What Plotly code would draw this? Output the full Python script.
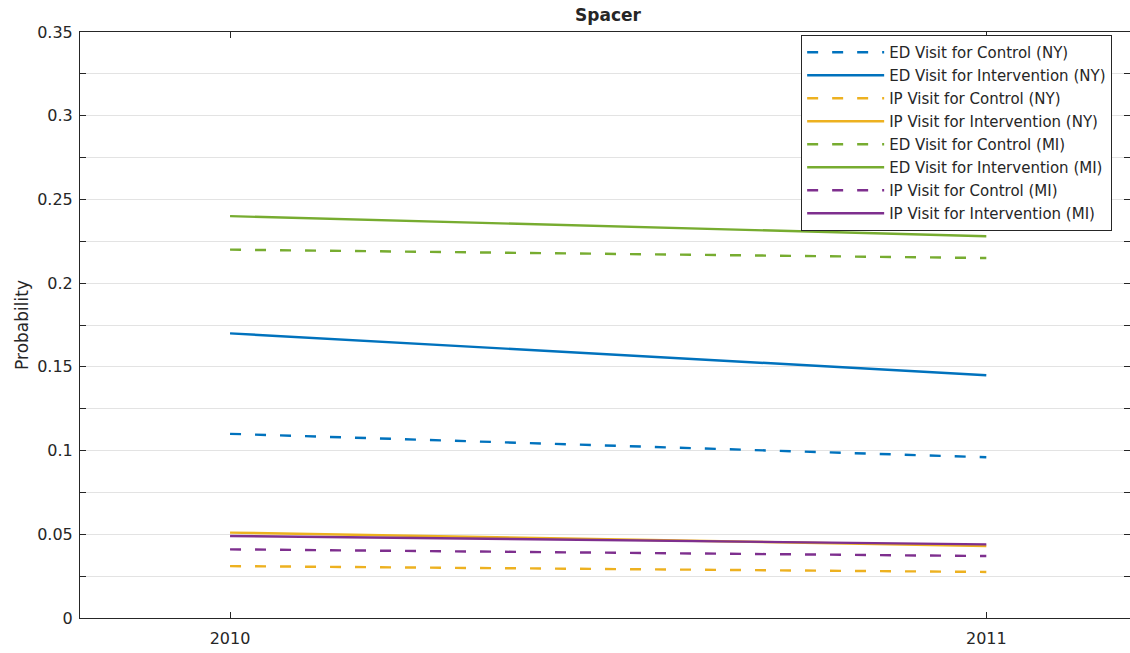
import plotly.graph_objects as go

# ── Data ─────────────────────────────────────────────────────────

years = [2010, 2011]

series_names = [
    "ED Visit for Control (NY)",
    "ED Visit for Intervention (NY)",
    "IP Visit for Control (NY)",
    "IP Visit for Intervention (NY)",
    "ED Visit for Control (MI)",
    "ED Visit for Intervention (MI)",
    "IP Visit for Control (MI)",
    "IP Visit for Intervention (MI)",
]

ed_control_ny = [0.110, 0.096]
ed_intervention_ny = [0.170, 0.145]
ip_control_ny = [0.031, 0.0275]
ip_intervention_ny = [0.051, 0.043]
ed_control_mi = [0.220, 0.215]
ed_intervention_mi = [0.240, 0.228]
ip_control_mi = [0.041, 0.037]
ip_intervention_mi = [0.049, 0.044]

series_values = [
    ed_control_ny, ed_intervention_ny, ip_control_ny, ip_intervention_ny,
    ed_control_mi, ed_intervention_mi, ip_control_mi, ip_intervention_mi,
]

# ── Styles ───────────────────────────────────────────────────────

_COLORS = ["#0072BD", "#0072BD", "#EDB120", "#EDB120",
           "#77AC30", "#77AC30", "#7E2F8E", "#7E2F8E"]
_DASHES = ["dash", "solid"] * 4
_TEXT = "#262626"
_AXIS = "#262626"
_GRID = "#e3e3e3"
_FONT = "DejaVu Sans, Arial, sans-serif"

fig = go.Figure()
for i, (name, vals, color, dash) in enumerate(
    zip(series_names, series_values, _COLORS, _DASHES)
):
    fig.add_trace(
        go.Scatter(
            x=years,
            y=vals,
            name=name,
            legendgroup=f"g{i}",
            mode="lines",
            line=dict(
                color=color,
                width=2.4,
                dash="11px,14px" if dash == "dash" else "solid",
            ),
        )
    )

axis_common = dict(
    showline=True,
    linecolor=_AXIS,
    linewidth=1,
    mirror="ticks",
    ticks="inside",
    ticklen=6,
    tickcolor=_AXIS,
    tickfont=dict(family=_FONT, size=16, color=_TEXT),
    zeroline=False,
)

fig.update_layout(
    width=1130,
    height=653,
    paper_bgcolor="white",
    plot_bgcolor="white",
    margin=dict(l=80, r=0, t=32, b=35),
    title=dict(
        text="<b>Spacer</b>",
        x=0.538,
        xanchor="center",
        y=0.977,
        yanchor="middle",
        font=dict(family=_FONT, size=17, color=_TEXT),
    ),
    xaxis=dict(
        range=[2009.8016, 2011.19],
        tickvals=years,
        ticktext=[str(y) for y in years],
        showgrid=False,
        ticklabelstandoff=6,
        **axis_common,
    ),
    yaxis=dict(
        range=[0, 0.35],
        dtick=0.05,
        tickformat="~g",
        showgrid=True,
        gridcolor=_GRID,
        ticklabelstandoff=3,
        minor=dict(dtick=0.025, showgrid=True, gridcolor=_GRID, ticks="inside",
                   ticklen=6, tickcolor=_AXIS),
        title=dict(text="Probability",
                   font=dict(family=_FONT, size=17, color=_TEXT),
                   standoff=4),
        **axis_common,
    ),
    legend=dict(
        x=0.983,
        y=0.995,
        xanchor="right",
        yanchor="top",
        bgcolor="white",
        bordercolor="#262626",
        borderwidth=1,
        itemwidth=77,
        tracegroupgap=0.5,
        font=dict(family=_FONT, size=15, color=_TEXT),
    ),
)

fig.write_html(
    "out.html",
    config={"displayModeBar": False},
    post_script="document.body.style.margin='0';",
)
